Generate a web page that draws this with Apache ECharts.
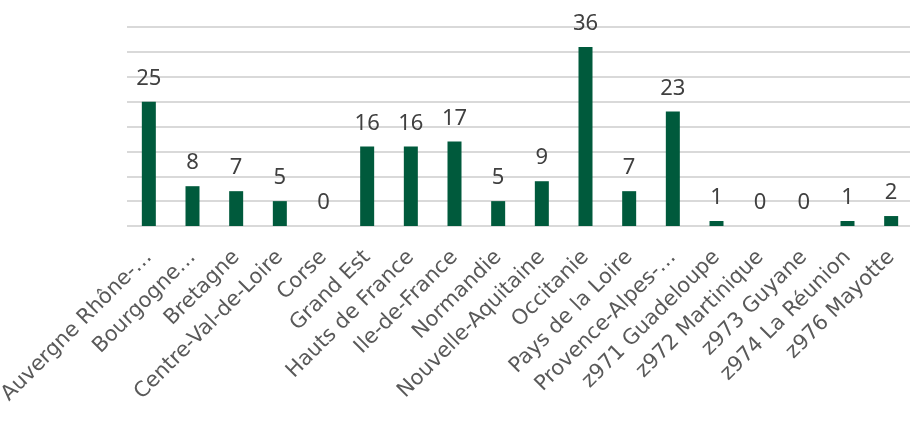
<!DOCTYPE html>
<html>
<head>
<meta charset="utf-8">
<script src="https://cdn.jsdelivr.net/npm/echarts@6/dist/echarts.min.js"></script>
<style>
  html, body { margin: 0; padding: 0; background: #fff; }
  #chart { width: 910px; height: 421px; }
</style>
</head>
<body>
<div id="chart"></div>
<script>
// régions
var regions = ['Auvergne Rhône-…', 'Bourgogne…', 'Bretagne', 'Centre-Val-de-Loire', 'Corse',
    'Grand Est', 'Hauts de France', 'Ile-de-France', 'Normandie', 'Nouvelle-Aquitaine',
    'Occitanie', 'Pays de la Loire', 'Provence-Alpes-…', 'z971 Guadeloupe', 'z972 Martinique',
    'z973 Guyane', 'z974 La Réunion', 'z976 Mayotte'];
// valeurs
var values = [25, 8, 7, 5, 0, 16, 16, 17, 5, 9, 36, 7, 23, 1, 0, 0, 1, 2];

var chart = echarts.init(document.getElementById('chart'));
var option = {
    animation: false,
    textStyle: { fontFamily: 'Noto Sans' },
    grid: {
        left: 127,
        width: 786,
        top: 27,
        height: 199,
        outerBoundsMode: 'none',
        containLabel: false
    },
    xAxis: {
        type: 'category',
        data: regions,
        axisLine: { show: false },
        axisTick: { show: false },
        axisLabel: {
            interval: 0,
            rotate: 45,
            margin: 28,
            color: '#595959',
            fontFamily: 'DejaVu Sans',
            fontSize: 21
        }
    },
    yAxis: {
        type: 'value',
        min: 0,
        max: 40,
        interval: 5,
        axisLabel: { show: false },
        axisLine: { show: false },
        axisTick: { show: false },
        splitLine: { lineStyle: { color: '#d9d9d9', width: 2 } }
    },
    series: [{
        type: 'bar',
        data: values,
        barWidth: 14,
        itemStyle: { color: '#005a3c' },
        label: {
            show: true,
            position: 'top',
            distance: 12,
            color: '#404040',
            fontSize: 22
        }
    }]
};
chart.setOption(option);
</script>
</body>
</html>
